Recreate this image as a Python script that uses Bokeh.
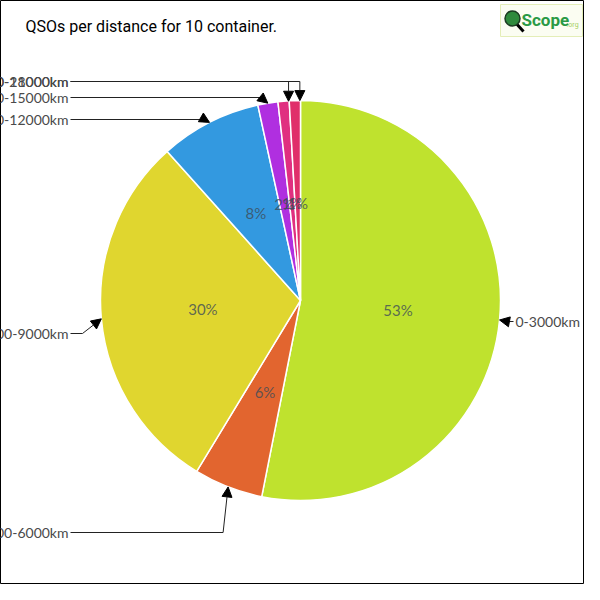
import math
from bokeh.plotting import figure
from bokeh.models import Range1d, ColumnDataSource, Arrow, NormalHead
from bokeh.core.properties import value
from bokeh.embed import file_html
from bokeh.resources import INLINE

# ---- data ----
title_text = "QSOs per distance for 10 container."
categories = ["0-3000km", "3000-6000km", "6000-9000km", "9000-12000km",
              "12000-15000km", "15000-18000km", "18000-21000km"]
counts = [590, 62, 330, 91, 18, 10, 10]
colors = ["#bfe22e", "#e2652f", "#e0d62f", "#3399e0", "#b02fe0", "#e02f80", "#e02f6a"]

# ---- layout (reference pixel space, y down) ----
CX, CY, R = 300, 300, 200
LABEL_R = 98
label_y_px = [321, 532, 333, 119, 97, 81, 81]
label_side = ["right", "left", "left", "left", "left", "left", "left"]

def Y(ypx):
    return 600 - ypx

p = figure(width=584, height=584, output_backend="svg", toolbar_location=None,
           x_range=Range1d(0, 584), y_range=Range1d(16, 600), min_border=0)
p.axis.visible = False
p.grid.visible = False
p.outline_line_color = "black"
p.outline_line_width = 1
p.background_fill_color = "white"
p.border_fill_color = "white"

total = float(sum(counts))
fr = [c / total for c in counts]
cum = [0.0]
for f in fr:
    cum.append(cum[-1] + f)
starts = [math.pi / 2 - 2 * math.pi * cum[i] for i in range(len(counts))]
ends = [math.pi / 2 - 2 * math.pi * cum[i + 1] for i in range(len(counts))]
mids = [(s + e) / 2 for s, e in zip(starts, ends)]

src = ColumnDataSource(dict(start=starts, end=ends, color=colors))
p.wedge(x=CX, y=Y(CY), radius=R, start_angle="start", end_angle="end",
        direction="clock", fill_color="color", line_color="white", line_width=1.5,
        source=src)

# percentage labels
pct = ["%d%%" % round(f * 100) for f in fr]
px = [CX + LABEL_R * math.cos(a) for a in mids]
py = [Y(CY) + LABEL_R * math.sin(a) for a in mids]
p.text(x=px, y=py, text=pct, text_align="center", text_baseline="middle",
       text_font=value("Lato"), text_font_size="15px", text_color="#3e4c58",
       text_alpha=0.8)

# callouts
tips_x, tips_y, elb_x, elb_y = [], [], [], []
seg_x0, seg_y0, seg_x1, seg_y1 = [], [], [], []
for i, a in enumerate(mids):
    tx = CX + R * math.cos(a)
    ty = Y(CY) + R * math.sin(a)
    ly = Y(label_y_px[i])
    if label_side[i] == "right":
        ex, ey = tx + 8, ly
        lx = 513
    else:
        lx = 70
        if i == 2:
            ex, ey = 82, ly
        elif i == 4:
            ex, ey = tx - 7, ly
        elif i >= 5:
            tx += 5
            ex, ey = tx, ly
        else:
            ex, ey = tx - 5, ly
    tips_x.append(tx); tips_y.append(ty); elb_x.append(ex); elb_y.append(ey)
    seg_x0.append(lx); seg_y0.append(ly); seg_x1.append(ex); seg_y1.append(ey)

p.segment(x0=seg_x0, y0=seg_y0, x1=seg_x1, y1=seg_y1, line_color="#222222", line_width=1)
asrc = ColumnDataSource(dict(x0=elb_x, y0=elb_y, x1=tips_x, y1=tips_y))
p.add_layout(Arrow(end=NormalHead(size=10, fill_color="black", line_color="black"),
                   x_start="x0", y_start="y0", x_end="x1", y_end="y1",
                   line_color="#222222", line_width=1, source=asrc))

lab_x = [515 if s == "right" else 68 for s in label_side]
lab_align = ["left" if s == "right" else "right" for s in label_side]
lsrc = ColumnDataSource(dict(x=lab_x, y=[Y(v) for v in label_y_px], t=categories, al=lab_align))
p.text(x="x", y="y", text="t", text_align="al", text_baseline="middle",
       text_font=value("Lato"), text_font_size="14px", text_color="#4a4a4a",
       source=lsrc)

# title
p.text(x=[25], y=[Y(26)], text=[title_text], text_align="left", text_baseline="middle",
       text_font=value("Roboto"), text_font_size="16px", text_color="black")

# logo
p.quad(left=500, right=582, bottom=Y(36), top=Y(4), fill_color="#fbfdf2",
       line_color="#e4eeb8", line_width=1)
p.segment(x0=[513], y0=[Y(20)], x1=[523], y1=[Y(31)], line_color="black", line_width=3)
p.circle(x=[512], y=[Y(18)], radius=7.5, fill_color="#2f8a3c", line_color="#1d3d22",
         line_width=1.5)
p.text(x=[521], y=[Y(19)], text=["Scope"], text_align="left", text_baseline="middle",
       text_font=value("Roboto"), text_font_size="17px", text_font_style="bold",
       text_color="#2a9a45")
p.text(x=[566], y=[Y(24)], text=[".org"], text_align="left", text_baseline="middle",
       text_font=value("Roboto"), text_font_size="7px", text_color="#a5cf62")

open("out.html", "w").write(file_html(p, INLINE))
